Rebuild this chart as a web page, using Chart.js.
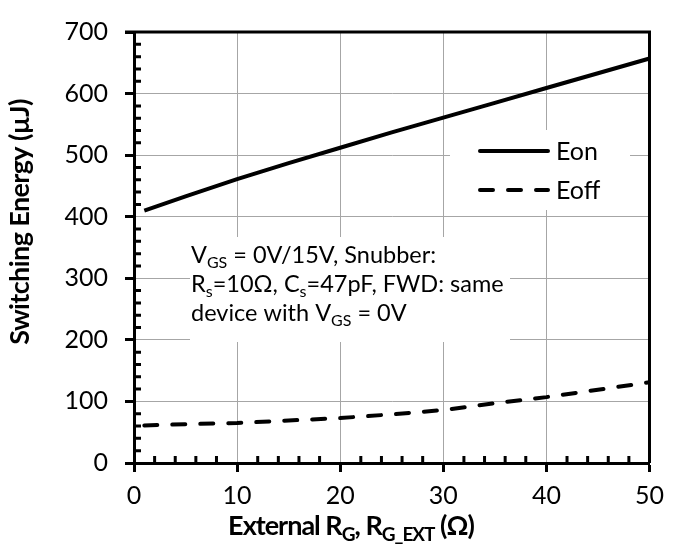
<!DOCTYPE html>
<html>
<head>
<meta charset="utf-8">
<script src="https://cdn.jsdelivr.net/npm/chart.js@4.4.1/dist/chart.umd.min.js"></script>
<style>
  html, body { margin: 0; padding: 0; background: #fff; }
  #wrap { width: 673px; height: 548px; }
</style>
</head>
<body>
<div id="wrap"><canvas id="chart"></canvas></div>
<script>
// --- Data ---
const rgValues    = [1, 5, 10, 15, 20, 25, 30, 35, 40, 45, 50];
const eonValues   = [410, 433, 461, 487, 512, 537, 561, 585, 609, 633, 657];
const eoffValues  = [61, 63, 65, 69, 73, 79, 86, 97, 107, 119, 131];
const xTickValues = [0, 10, 20, 30, 40, 50];
const yTickValues = [0, 100, 200, 300, 400, 500, 600, 700];
const seriesNames = ["Eon", "Eoff"];

const xTitle = "External R_{G}, R_{G_EXT} (Ω)";
const yTitle = "Switching Energy (µJ)";
const noteLines = [
  "V_{GS} = 0V/15V, Snubber:",
  "R_{s}=10Ω, C_{s}=47pF, FWD: same",
  "device with V_{GS} = 0V"
];

const FONT = "Lato, 'Open Sans', sans-serif";

// --- Text helpers ---
function parseRich(str) {
  const bits = str.split(/_\{([^}]*)\}/);
  return bits.map((t, i) => ({ t, sub: i % 2 === 1 })).filter(p => p.t.length);
}

function drawRich(ctx, str, x, y, size, weight, align, subRatio, subShift, spacing) {
  const parts   = parseRich(str);
  const subSize = Math.round(size * subRatio);
  ctx.letterSpacing = spacing || "0px";
  let total = 0;
  parts.forEach(p => {
    ctx.font = `${weight} ${p.sub ? subSize : size}px ${FONT}`;
    p.w = ctx.measureText(p.t).width;
    total += p.w;
  });
  let cx = align === "center" ? x - total / 2 : x;
  ctx.textAlign    = "left";
  ctx.textBaseline = "alphabetic";
  parts.forEach(p => {
    ctx.font = `${weight} ${p.sub ? subSize : size}px ${FONT}`;
    ctx.fillText(p.t, cx, p.sub ? y + subShift : y);
    cx += p.w;
  });
  ctx.letterSpacing = "0px";
}

// --- Overlay plugin: boxes, frame, minor ticks, legend, notes, titles ---
const overlay = {
  id: "overlay",
  beforeDatasetsDraw(chart) {
    const ctx = chart.ctx;
    ctx.save();
    ctx.fillStyle = "#fff";
    ctx.fillRect(450, 130, 180, 80);   // legend box
    ctx.fillRect(190, 237, 320, 105);  // note box
    ctx.restore();
  },
  afterDraw(chart) {
    const ctx = chart.ctx;
    const a   = chart.chartArea;
    const xs  = chart.scales.x;
    const ys  = chart.scales.y;
    ctx.save();
    ctx.strokeStyle = "#000";
    ctx.lineWidth   = 3;

    // top + right frame
    ctx.beginPath();
    ctx.moveTo(a.left - 9, a.top);
    ctx.lineTo(a.right, a.top);
    ctx.lineTo(a.right, a.bottom);
    ctx.stroke();

    // minor ticks pointing inwards
    ctx.beginPath();
    for (let v = 2; v < 50; v += 2) {
      if (v % 10 === 0) continue;
      const px = xs.getPixelForValue(v);
      ctx.moveTo(px, a.bottom);
      ctx.lineTo(px, a.bottom - 7);
    }
    for (let v = 20; v < 700; v += 20) {
      if (v % 100 === 0) continue;
      const py = ys.getPixelForValue(v);
      ctx.moveTo(a.left, py);
      ctx.lineTo(a.left + 7, py);
    }
    ctx.stroke();

    // legend
    ctx.lineWidth = 4;
    ctx.lineCap   = "round";
    ctx.beginPath();
    ctx.moveTo(480, 151); ctx.lineTo(548, 151);
    ctx.stroke();
    ctx.setLineDash([13, 15]);
    ctx.beginPath();
    ctx.moveTo(480, 190); ctx.lineTo(548, 190);
    ctx.stroke();
    ctx.setLineDash([]);

    ctx.fillStyle = "#000";
    ctx.font = `25px ${FONT}`;
    ctx.textAlign    = "left";
    ctx.textBaseline = "alphabetic";
    ctx.fillText(seriesNames[0], 556, 160);
    ctx.fillText(seriesNames[1], 556, 199);

    // condition note
    const baselines = [263, 292, 321];
    noteLines.forEach((line, i) => drawRich(ctx, line, 191, baselines[i], 23.5, "normal", "left", 0.66, 5));

    // axis titles
    drawRich(ctx, xTitle, 351, 535, 27, "bold", "center", 0.72, 6, "-1px");
    ctx.translate(29, 222);
    ctx.rotate(-Math.PI / 2);
    drawRich(ctx, yTitle, 0, 0, 27, "bold", "center", 0.72, 6, "-0.6px");
    ctx.restore();
  }
};

// --- Chart ---
new Chart(document.getElementById("chart"), {
  type: "scatter",
  data: {
    datasets: [
      {
        label: seriesNames[0],
        data: rgValues.map((x, i) => ({ x, y: eonValues[i] })),
        showLine: true,
        borderColor: "#000",
        borderWidth: 4,
        pointRadius: 0,
        tension: 0
      },
      {
        label: seriesNames[1],
        data: rgValues.map((x, i) => ({ x, y: eoffValues[i] })),
        showLine: true,
        borderColor: "#000",
        borderWidth: 4,
        borderDash: [13, 15],
        borderCapStyle: "round",
        pointRadius: 0,
        tension: 0
      }
    ]
  },
  options: {
    responsive: true,
    maintainAspectRatio: false,
    animation: false,
    layout: { padding: { left: 0, top: 18, right: 18, bottom: 0 } },
    plugins: { legend: { display: false }, tooltip: { enabled: false } },
    scales: {
      x: {
        type: "linear",
        min: 0, max: 50,
        afterBuildTicks: s => { s.ticks = xTickValues.map(v => ({ value: v })); },
        afterFit: s => { s.height = 85; },
        grid:   { color: "#a6a6a6", lineWidth: 1, tickColor: "#000", tickWidth: 3, tickLength: 9 },
        border: { display: true, color: "#000", width: 3 },
        ticks:  { color: "#000", font: { family: FONT, size: 25 }, padding: 9, maxRotation: 0 }
      },
      y: {
        type: "linear",
        min: 0, max: 700,
        afterBuildTicks: s => { s.ticks = yTickValues.map(v => ({ value: v })); },
        afterFit: s => { s.width = 134; },
        grid:   { color: "#a6a6a6", lineWidth: 1, tickColor: "#000", tickWidth: 3, tickLength: 9 },
        border: { display: true, color: "#000", width: 3 },
        ticks:  { color: "#000", font: { family: FONT, size: 25 }, padding: 17 }
      }
    }
  },
  plugins: [overlay]
});
</script>
</body>
</html>
